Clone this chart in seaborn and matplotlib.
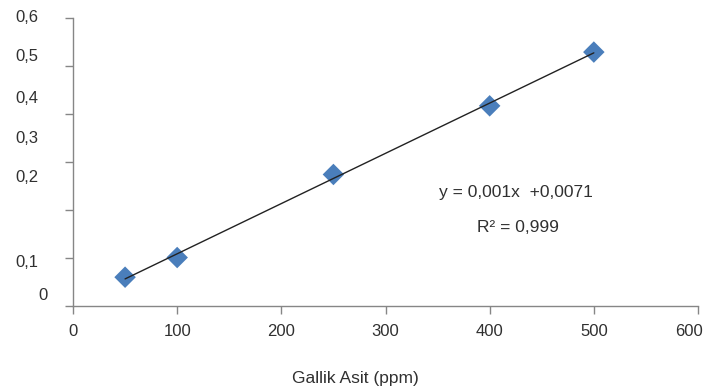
import numpy as np
import pandas as pd
import seaborn as sns
import matplotlib.pyplot as plt
from matplotlib.transforms import blended_transform_factory, ScaledTranslation

# Calibration data
concentration = [50, 100, 250, 400, 500]
absorbance = [0.060, 0.101, 0.274, 0.417, 0.529]

x_ticks = [0, 100, 200, 300, 400, 500, 600]
y_ticks = [0, 0.1, 0.2, 0.3, 0.4, 0.5, 0.6]

# the y labels in the original are drawn off their ticks
y_label_text = ["0,6", "0,5", "0,4", "0,3", "0,2", "0,1", "0"]
y_label_pos = [0.601, 0.519, 0.432, 0.348, 0.268, 0.091, 0.021]

equation = "y = 0,001x  +0,0071"
r_squared = "R² = 0,999"

df = pd.DataFrame({"ppm": concentration, "abs": absorbance})

sns.set_style("white")
plt.rcParams["font.family"] = ["Liberation Sans", "DejaVu Sans"]
txt_color = "#303030"

fig = plt.figure(figsize=(7.07, 3.90), dpi=100)
ax = fig.add_axes([73 / 707, 84 / 390, 625 / 707, 288 / 390])

sns.regplot(data=df, x="ppm", y="abs", ax=ax, ci=None, marker="D",
            scatter_kws={"s": 120, "color": "#4a7ebb", "edgecolors": "none", "alpha": 1},
            line_kws={"color": "#222222", "lw": 1.0})

ax.set_xlim(0, 600)
ax.set_ylim(0, 0.6)
ax.set_xticks(x_ticks)
ax.set_xticklabels([str(t) for t in x_ticks], fontsize=12, color=txt_color)
ax.set_yticks(y_ticks)
ax.set_yticklabels([])
ax.tick_params(axis="both", direction="out", length=6, width=1, color="#868686",
               left=True, bottom=True, pad=7)

# last x label is pulled in so it fits on the canvas
last = ax.get_xticklabels()[-1]
last.set_horizontalalignment("right")
last.set_transform(last.get_transform() + ScaledTranslation(5 / 100, 0, fig.dpi_scale_trans))

trans = blended_transform_factory(ax.transAxes, ax.transData)
for lab, pos in zip(y_label_text, y_label_pos):
    xr = -0.041 if lab == "0" else -0.055
    ax.text(xr, pos, lab, transform=trans, ha="right", va="center",
            fontsize=12, color=txt_color)

for side in ["top", "right"]:
    ax.spines[side].set_visible(False)
for side in ["left", "bottom"]:
    ax.spines[side].set_color("#868686")
    ax.spines[side].set_linewidth(1)

ax.text(425, 0.2375, equation, ha="center", va="center", fontsize=12.5, color=txt_color)
ax.text(427, 0.1625, r_squared, ha="center", va="center", fontsize=12.5, color=txt_color)

ax.set_xlabel("")
ax.set_ylabel("")
fig.text(355 / 707, 1 - 378 / 390, "Gallik Asit (ppm)", ha="center", va="center",
         fontsize=12.5, color=txt_color)

fig.savefig("out.png", dpi=100)
